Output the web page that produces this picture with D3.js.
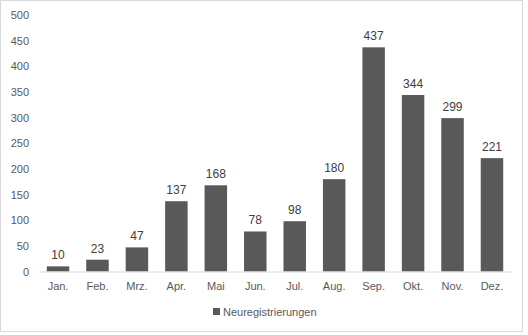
<!DOCTYPE html>
<html>
<head>
<meta charset="utf-8">
<script src="https://cdn.jsdelivr.net/npm/d3@7"></script>
<style>
  body { margin: 0; background: #fff; }
  text { font-family: "Liberation Sans", Arial, sans-serif; }
</style>
</head>
<body>
<svg id="chart" width="528" height="335"></svg>
<script>
// chart data
var months = ["Jan.", "Feb.", "Mrz.", "Apr.", "Mai", "Jun.", "Jul.", "Aug.", "Sep.", "Okt.", "Nov.", "Dez."];
var registrations = [10, 23, 47, 137, 168, 78, 98, 180, 437, 344, 299, 221];
var yTicks = [0, 50, 100, 150, 200, 250, 300, 350, 400, 450, 500];
var seriesName = "Neuregistrierungen";

var svg = d3.select("#chart");
var barColor = "#595959";

// outer frame
svg.append("rect")
    .attr("x", 0.5).attr("y", 0.5)
    .attr("width", 522).attr("height", 331)
    .attr("fill", "#fff")
    .attr("stroke", "#d9d9d9");

var x = d3.scaleBand()
    .domain(months)
    .range([38.3, 511.7])
    .paddingInner(0.43)
    .paddingOuter(0.215);

var y = d3.scaleLinear()
    .domain([0, 500])
    .range([271.5, 15]);

// y axis labels (no line, no gridlines)
var yAxis = svg.append("g")
    .attr("transform", "translate(29,0)")
    .call(d3.axisLeft(y).tickValues(yTicks).tickSize(0).tickPadding(0));
yAxis.select(".domain").remove();
yAxis.selectAll("text")
    .attr("fill", "#595959")
    .style("font-size", "11px");

// bars
svg.append("g").selectAll("rect")
    .data(registrations)
    .enter().append("rect")
      .attr("x", function(d, i) { return x(months[i]); })
      .attr("y", function(d) { return y(d); })
      .attr("width", x.bandwidth())
      .attr("height", function(d) { return y(0) - y(d); })
      .attr("fill", barColor);

// value labels
svg.append("g").selectAll("text")
    .data(registrations)
    .enter().append("text")
      .attr("x", function(d, i) { return x(months[i]) + x.bandwidth() / 2; })
      .attr("y", function(d) { return y(d) - 7; })
      .attr("text-anchor", "middle")
      .attr("fill", "#404040")
      .style("font-size", "12px")
      .text(function(d) { return d; });

// x axis
var xAxis = svg.append("g")
    .attr("transform", "translate(0," + y(0) + ")")
    .call(d3.axisBottom(x).tickSize(0).tickPadding(11));
xAxis.select(".domain").attr("stroke", "#d9d9d9");
xAxis.selectAll("text")
    .attr("fill", "#595959")
    .style("font-size", "11px");

// legend
var legend = svg.append("g").attr("transform", "translate(213,308)");
legend.append("rect")
    .attr("width", 7).attr("height", 7)
    .attr("fill", barColor);
legend.append("text")
    .attr("x", 10).attr("y", 4)
    .attr("dy", "0.35em")
    .attr("fill", "#595959")
    .style("font-size", "11px")
    .text(seriesName);
</script>
</body>
</html>
